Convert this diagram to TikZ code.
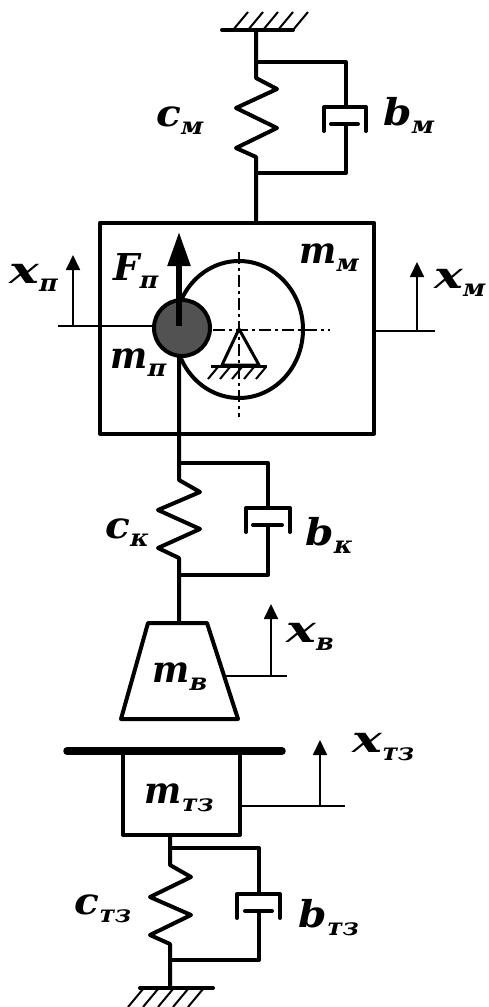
\documentclass[tikz,border=0pt]{standalone}
\usepackage{fontspec}
\setmainfont{DejaVu Serif}
\newfontfamily\subf{DejaVu Serif Bold}[FakeSlant=0.22]
\usetikzlibrary{arrows.meta}
\newcommand{\sym}[3][1]{{\fontsize{37}{37}\selectfont\bfseries\itshape\scalebox{#1}[1]{#2}\kern-1pt\raisebox{-8.5pt}{\scalebox{1.05}[1]{\fontsize{24}{24}\subf\mdseries\upshape #3}}}}
\tikzset{
 x=1pt,y=-1pt,
 wire/.style={line width=4pt,line join=round,line cap=round},
 thin wire/.style={line width=1.8pt},
 axis/.style={line width=1.5pt,dash pattern=on 12pt off 4pt on 3pt off 4pt},
 coord arrow/.style={line width=1.8pt,-{Triangle[length=15pt,width=14pt]}},
 force/.style={line width=5.5pt,-{Triangle[length=34pt,width=22pt]}},
 hatch/.style={line width=2pt},
 lab/.style={inner sep=0pt,anchor=base west},
 mass/.style={draw,line width=4pt,line join=round,inner sep=0pt}
}
\begin{document}
\begin{tikzpicture}
\useasboundingbox (0,0) rectangle (488,1007);
% top ground
\coordinate (gt) at (256,30);
\draw[wire] (222,30) -- (293,30);
\foreach \i in {0,1,2,3,4}{\draw[hatch] (233+\i*15,30) -- (248+\i*15,12);}
% top spring-damper
\coordinate (t1) at (256,62);
\coordinate (t2) at (256,173);
\coordinate (mmtop) at (256,222);
\draw[wire] (gt) -- (t1) -- (256,78) -- (277,89) -- (236,108) -- (277,128) -- (236,148) -- (256,157) -- (t2) -- (mmtop);
\draw[wire] (t1) -- (346,62) -- (346,107);
\draw[wire] (t2) -- (346,173) -- (346,124);
\draw[wire] (324,131) -- (324,107) -- (366,107) -- (366,131);
\draw[wire] (331,124) -- (358,124);
% motor mass box
\node[mass,minimum width=274pt,minimum height=211pt] (mm) at (237,328) {};
% large wheel
\draw[wire] (239,329.5) ellipse[x radius=64,y radius=68.5];
% axes
\draw[axis] (239,252) -- (239,417);
\draw[axis] (213,330) -- (330,330);
% pivot
\draw[line width=3pt,line join=round] (239,329) -- (259,365) -- (222,365) -- cycle;
\draw[line width=3pt] (211,366) -- (267,366);
\foreach \i in {0,1,2,3,4}{\draw[hatch] (208+\i*12,379) -- (218+\i*12,367);}
% piston
\node[circle,draw,fill=black!68,line width=4pt,minimum size=56pt,inner sep=0pt] (pist) at (182,328) {};
\coordinate (fb) at (179,326);
\coordinate (ft) at (179,232);
\draw[force] (fb) -- (ft);
\coordinate (xpl) at (58,326);
\coordinate (xpa) at (73,326);
\coordinate (xpt) at (73,255);
\draw[thin wire] (pist.west |- xpl) -- (xpl);
\draw[coord arrow] (xpa) -- (xpt);
\coordinate (xmr) at (435,331);
\coordinate (xma) at (417,331);
\coordinate (xmt) at (417,262);
\draw[thin wire] (mm.east |- xmr) -- (xmr);
\draw[coord arrow] (xma) -- (xmt);
% lower spring-damper
\coordinate (k1) at (179,463);
\coordinate (k2) at (179,575);
\coordinate (vt) at (179,623);
\draw[wire] (179,357) -- (k1) -- (179,480) -- (200,492) -- (158,510) -- (200,529) -- (158,548) -- (179,558) -- (k2) -- (vt);
\draw[wire] (k1) -- (268,463) -- (268,508);
\draw[wire] (k2) -- (268,575) -- (268,525);
\draw[wire] (246,532) -- (246,508) -- (290,508) -- (290,532);
\draw[wire] (253,525) -- (282,525);
% trapezoid
\draw[wire] (148,623) -- (207,623) -- (238,719) -- (121,719) -- cycle;
\coordinate (xvl) at (225,676);
\coordinate (xvr) at (287,676);
\coordinate (xva) at (271,676);
\coordinate (xvt) at (271,604);
\draw[thin wire] (xvl) -- (xvr);
\draw[coord arrow] (xva) -- (xvt);
% tz mass
\draw[line width=7.5pt,line cap=round] (67,751) -- (282,751);
\node[mass,minimum width=117pt,minimum height=84pt] (tz) at (181.5,793) {};
\coordinate (xtr) at (345,806);
\coordinate (xta) at (320,806);
\coordinate (xtt) at (320,740);
\draw[thin wire] (tz.east |- xtr) -- (xtr);
\draw[coord arrow] (xta) -- (xtt);
% lower spring-damper
\coordinate (z1) at (170,848);
\coordinate (z2) at (170,960);
\coordinate (gb) at (170,988);
\draw[wire] (tz.south -| z1) -- (z1) -- (170,865) -- (191,877) -- (150,897) -- (191,915) -- (150,935) -- (170,944) -- (z2) -- (gb);
\draw[wire] (z1) -- (259,848) -- (259,894);
\draw[wire] (z2) -- (259,960) -- (259,911);
\draw[wire] (237,918) -- (237,894) -- (280,894) -- (280,918);
\draw[wire] (245,911) -- (272,911);
\draw[wire] (140,988) -- (213,988);
\foreach \i in {0,1,2,3,4}{\draw[hatch] (128+\i*15,1007) -- (143+\i*15,989);}
% labels
\node[lab] (l1) at (156,126) {\sym[1.1]{c}{м}};
\node[lab] (l2) at (383,125) {\sym[1.1]{b}{м}};
\node[lab] (l3) at (9,283) {\sym[1.35]{x}{п}};
\node[lab] (l4) at (113,280) {\sym{F}{п}};
\node[lab] (l5) at (299,263) {\sym[0.95]{m}{м}};
\node[lab] (l6) at (434,288) {\sym[1.3]{x}{м}};
\node[lab] (l7) at (110,368) {\sym[0.95]{m}{п}};
\node[lab] (l8) at (105,538) {\sym[1.1]{c}{к}};
\node[lab] (l9) at (305,545) {\sym[1.1]{b}{к}};
\node[lab] (l10) at (152,682) {\sym[0.95]{m}{в}};
\node[lab] (l11) at (286,642) {\sym[1.35]{x}{в}};
\node[lab] (l12) at (352,752) {\sym[1.35]{x}{тз}};
\node[lab] (l13) at (144,803) {\sym[0.95]{m}{тз}};
\node[lab] (l14) at (74,914) {\sym[1.1]{c}{тз}};
\node[lab] (l15) at (298,927) {\sym[1.1]{b}{тз}};
\end{tikzpicture}
\end{document}
